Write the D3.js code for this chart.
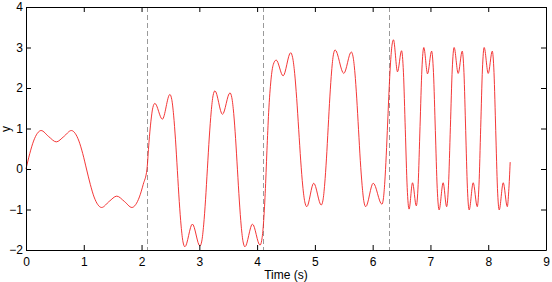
<!DOCTYPE html>
<html>
<head>
<meta charset="utf-8">
<script src="https://cdn.jsdelivr.net/npm/d3@7"></script>
<style>
  html, body { margin: 0; padding: 0; background: #ffffff; }
  svg { display: block; }
  text { font-family: "Liberation Sans", Arial, Helvetica, sans-serif; }
</style>
</head>
<body>
<script>
// ---- data ----
const t1 = [0, 0.065, 0.131, 0.196, 0.262, 0.393, 0.524, 0.654, 0.785, 0.851, 0.916, 0.982, 1.047, 1.113, 1.178, 1.243, 1.309, 1.44, 1.571, 1.702, 1.833, 1.898, 1.963, 2.029, 2.094];
const y1 = [0, 0.38, 0.69, 0.88, 0.95, 0.8, 0.67, 0.8, 0.95, 0.88, 0.69, 0.38, 0, -0.38, -0.69, -0.88, -0.95, -0.8, -0.67, -0.8, -0.95, -0.88, -0.69, -0.38, 0];

const t2 = [2.128, 2.162, 2.196, 2.23, 2.36, 2.49, 2.5225, 2.555, 2.5875, 2.62, 2.6525, 2.685, 2.7175, 2.75, 2.88, 3.01, 3.0425, 3.075, 3.1075, 3.14, 3.1725, 3.205, 3.2375, 3.27, 3.4, 3.53, 3.5625, 3.595, 3.6275, 3.66, 3.6925, 3.725, 3.7575, 3.79, 3.92, 4.05];
const y2 = [0.65, 1.18, 1.52, 1.62, 1.23, 1.84, 1.72, 1.33, 0.72, -0.04, -0.8, -1.41, -1.8, -1.92, -1.36, -1.9, -1.78, -1.38, -0.76, 0.02, 0.79, 1.41, 1.81, 1.93, 1.35, 1.88, 1.76, 1.37, 0.75, -0.02, -0.79, -1.41, -1.8, -1.92, -1.36, -1.88];

const t3 = [4.08, 4.11, 4.14, 4.17, 4.2, 4.24, 4.28, 4.33, 4.45, 4.58, 4.615, 4.65, 4.685, 4.72, 4.755, 4.79, 4.825, 4.86, 4.98, 5.11, 5.14, 5.17, 5.2, 5.23, 5.26, 5.29, 5.32, 5.35, 5.5, 5.63, 5.661, 5.693, 5.724, 5.755, 5.786, 5.818, 5.849, 5.88, 6.01, 6.16];
const y3 = [-1.76, -1.35, -0.6, 0.45, 1.4, 2.2, 2.58, 2.69, 2.3, 2.87, 2.75, 2.36, 1.74, 0.97, 0.2, -0.42, -0.81, -0.93, -0.35, -0.89, -0.77, -0.37, 0.25, 1.03, 1.8, 2.42, 2.82, 2.94, 2.36, 2.89, 2.77, 2.37, 1.75, 0.98, 0.21, -0.41, -0.81, -0.93, -0.35, -0.87];

const t4 = [6.185, 6.21, 6.235, 6.26, 6.285, 6.31, 6.335, 6.36, 6.43, 6.5, 6.5325, 6.565, 6.5975, 6.63, 6.69, 6.755, 6.7875, 6.82, 6.8525, 6.885, 6.95, 7.02, 7.0525, 7.085, 7.1175, 7.15, 7.22, 7.28, 7.3125, 7.345, 7.3775, 7.41, 7.48, 7.55, 7.58, 7.61, 7.64, 7.67, 7.74, 7.81, 7.84, 7.87, 7.9, 7.93, 8.0, 8.07, 8.1, 8.13, 8.16, 8.19, 8.26, 8.33, 8.355, 8.38];
const y4 = [-0.74, -0.32, 0.34, 1.16, 1.98, 2.64, 3.06, 3.19, 2.4, 2.92, 2.39, 0.97, -0.46, -0.99, -0.34, -0.91, -0.38, 1.05, 2.47, 3.0, 2.35, 2.91, 2.38, 0.95, -0.48, -1.01, -0.34, -0.93, -0.4, 1.03, 2.47, 3.0, 2.36, 2.91, 2.38, 0.95, -0.48, -1.01, -0.34, -0.93, -0.4, 1.03, 2.47, 3.0, 2.36, 2.91, 2.38, 0.95, -0.48, -1.01, -0.34, -0.93, -0.55, 0.17];

const switchTimes = [2.09, 4.1, 6.29];
const xTicks = [0, 1, 2, 3, 4, 5, 6, 7, 8, 9];
const yTicks = [-2, -1, 0, 1, 2, 3, 4];
const xLabel = "Time (s)";
const yLabel = "y";

// ---- drawing ----
const W = 552, H = 282;
const mL = 26, mR = 546, mT = 7, mB = 250;

const svg = d3.select("body").append("svg").attr("width", W).attr("height", H);
svg.append("rect").attr("width", W).attr("height", H).attr("fill", "#ffffff");

const x = d3.scaleLinear().domain([0, 9]).range([mL, mR]);
const y = d3.scaleLinear().domain([-2, 4]).range([mB, mT]);

const times = t1.concat(t2, t3, t4);
const values = y1.concat(y2, y3, y4);
const pts = times.map((t, i) => [t, values[i]]);

// dashed switch lines
svg.append("g").selectAll("line").data(switchTimes).join("line")
  .attr("x1", d => Math.round(x(d)) + 0.5).attr("x2", d => Math.round(x(d)) + 0.5)
  .attr("y1", mT).attr("y2", mB)
  .attr("stroke", "#9a9a9a").attr("stroke-width", 1)
  .attr("stroke-dasharray", "5,3");

// signal line
svg.append("path").datum(pts)
  .attr("fill", "none").attr("stroke", "#f22020").attr("stroke-width", 0.9)
  .attr("d", d3.line().x(d => x(d[0])).y(d => y(d[1])).curve(d3.curveMonotoneX));

// axes
const fs = "12px";
const gx = svg.append("g").attr("transform", `translate(0,${mB})`)
  .call(d3.axisBottom(x).tickValues(xTicks).tickFormat(d3.format("d")).tickSizeInner(-5).tickSizeOuter(0).tickPadding(7));
const gxt = svg.append("g").attr("transform", `translate(0,${mT})`)
  .call(d3.axisTop(x).tickValues(xTicks).tickFormat("").tickSizeInner(-5).tickSizeOuter(0));
const gy = svg.append("g").attr("transform", `translate(${mL},0)`)
  .call(d3.axisLeft(y).tickValues(yTicks).tickFormat(d3.format("d")).tickSizeInner(-5).tickSizeOuter(0).tickPadding(3));
const gyr = svg.append("g").attr("transform", `translate(${mR},0)`)
  .call(d3.axisRight(y).tickValues(yTicks).tickFormat("").tickSizeInner(-5).tickSizeOuter(0));

[gx, gxt, gy, gyr].forEach(g => {
  g.selectAll("path.domain").attr("stroke", "#000").attr("stroke-width", 1);
  g.selectAll(".tick line").attr("stroke", "#000");
  g.selectAll("text").attr("fill", "#000").style("font-size", fs)
    .style("font-family", '"Liberation Sans", Arial, Helvetica, sans-serif');
});

svg.append("text").attr("x", (mL + mR) / 2).attr("y", 278.5)
  .attr("text-anchor", "middle").style("font-size", fs).attr("fill", "#000").text(xLabel);
svg.append("text").attr("transform", "translate(10,129) rotate(-90)")
  .attr("text-anchor", "middle").style("font-size", fs).attr("fill", "#000").text(yLabel);
</script>
</body>
</html>
